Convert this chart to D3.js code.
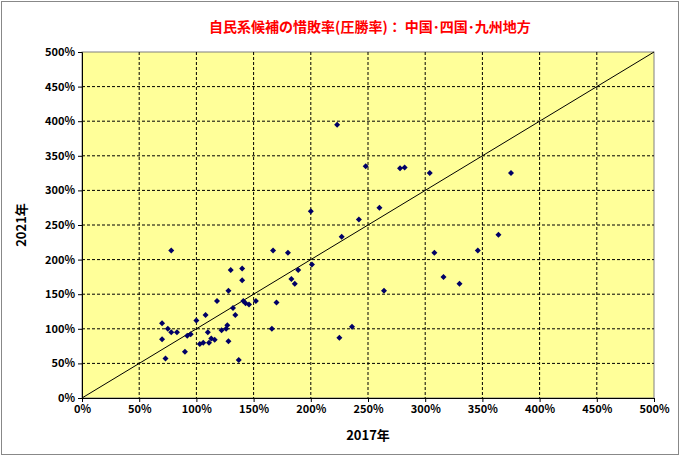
<!DOCTYPE html>
<html><head><meta charset="utf-8">
<script src="https://cdn.jsdelivr.net/npm/d3@7"></script>
<style>body{margin:0;background:#fff}text{font-family:"Noto Sans CJK JP",sans-serif}</style>
</head><body>
<svg width="685" height="461"></svg>
<script>
// 2017 vs 2021 (%)
const x2017 = [70,70,73,75,78,78,83,90,92,95,100,103,106,108,110,111,113,116,118,122,126,127,128,128,130,132,134,137,140,140,141,143,146,152,166,167,170,180,183,186,189,200,201,223,225,227,236,242,248,260,264,278,282,304,308,316,330,346,364,375]
const y2021 = [108,85,57,100,213,95,95,67,90,92,112,78,80,120,95,80,86,84,140,98,100,105,155,82,185,130,120,55,187,170,140,137,135,140,100,213,138,210,172,165,185,270,193,395,87,233,103,258,335,275,155,332,333,325,210,175,165,213,236,325]
const ticks = [0,50,100,150,200,250,300,350,400,450,500]

var svg = d3.select('svg')
svg.append('rect').attr('x',1.5).attr('y',1.5).attr('width',677).attr('height',453)
    .attr('fill','#fff').attr('stroke','#888')

var x = d3.scaleLinear().domain([0,500]).range([82,654])
var y = d3.scaleLinear().domain([0,500]).range([398,52])

svg.append('rect').attr('x',82).attr('y',52).attr('width',572).attr('height',346)
    .attr('fill','#FFFF99').attr('stroke','#808080')

svg.selectAll('.gx').data(ticks.slice(1,-1)).enter().append('line')
    .attr('x1',d=>x(d)).attr('x2',d=>x(d)).attr('y1',52).attr('y2',398)
    .attr('stroke','#000').attr('stroke-dasharray','3,2')
svg.selectAll('.gy').data(ticks.slice(1,-1)).enter().append('line')
    .attr('y1',d=>y(d)).attr('y2',d=>y(d)).attr('x1',82).attr('x2',654)
    .attr('stroke','#000').attr('stroke-dasharray','3,2')

var xa = svg.append('g').attr('transform','translate(0,398)')
    .call(d3.axisBottom(x).tickValues(ticks).tickSize(4).tickFormat(d=>d+'%'))
var ya = svg.append('g').attr('transform','translate(82,0)')
    .call(d3.axisLeft(y).tickValues(ticks).tickSize(4).tickFormat(d=>d+'%'))
svg.selectAll('.tick text').attr('font-size',11).attr('font-weight','bold').attr('font-family','Liberation Sans, sans-serif')
xa.select('.domain').attr('stroke','#000')
ya.select('.domain').attr('stroke','#000')

svg.append('line').attr('x1',x(0)).attr('y1',y(0)).attr('x2',x(500)).attr('y2',y(500)).attr('stroke','#000')

svg.selectAll('.pt').data(x2017).enter().append('path')
    .attr('d','M0,-3L3,0L0,3L-3,0Z').attr('fill','#000066')
    .attr('transform',(d,i)=>'translate('+x(d)+','+y(y2021[i])+')')

svg.append('text').attr('x',370).attr('y',32).attr('text-anchor','middle')
    .attr('fill','#ff0000').attr('font-size',14).attr('font-weight','bold')
    .text('自民系候補の惜敗率(圧勝率)：  中国･四国･九州地方')
svg.append('text').attr('x',368).attr('y',440).attr('text-anchor','middle')
    .attr('font-size',13).attr('font-weight','bold').text('2017年')
svg.append('text').attr('transform','translate(26,225) rotate(-90)').attr('text-anchor','middle')
    .attr('font-size',13).attr('font-weight','bold').text('2021年')
</script>
</body></html>
